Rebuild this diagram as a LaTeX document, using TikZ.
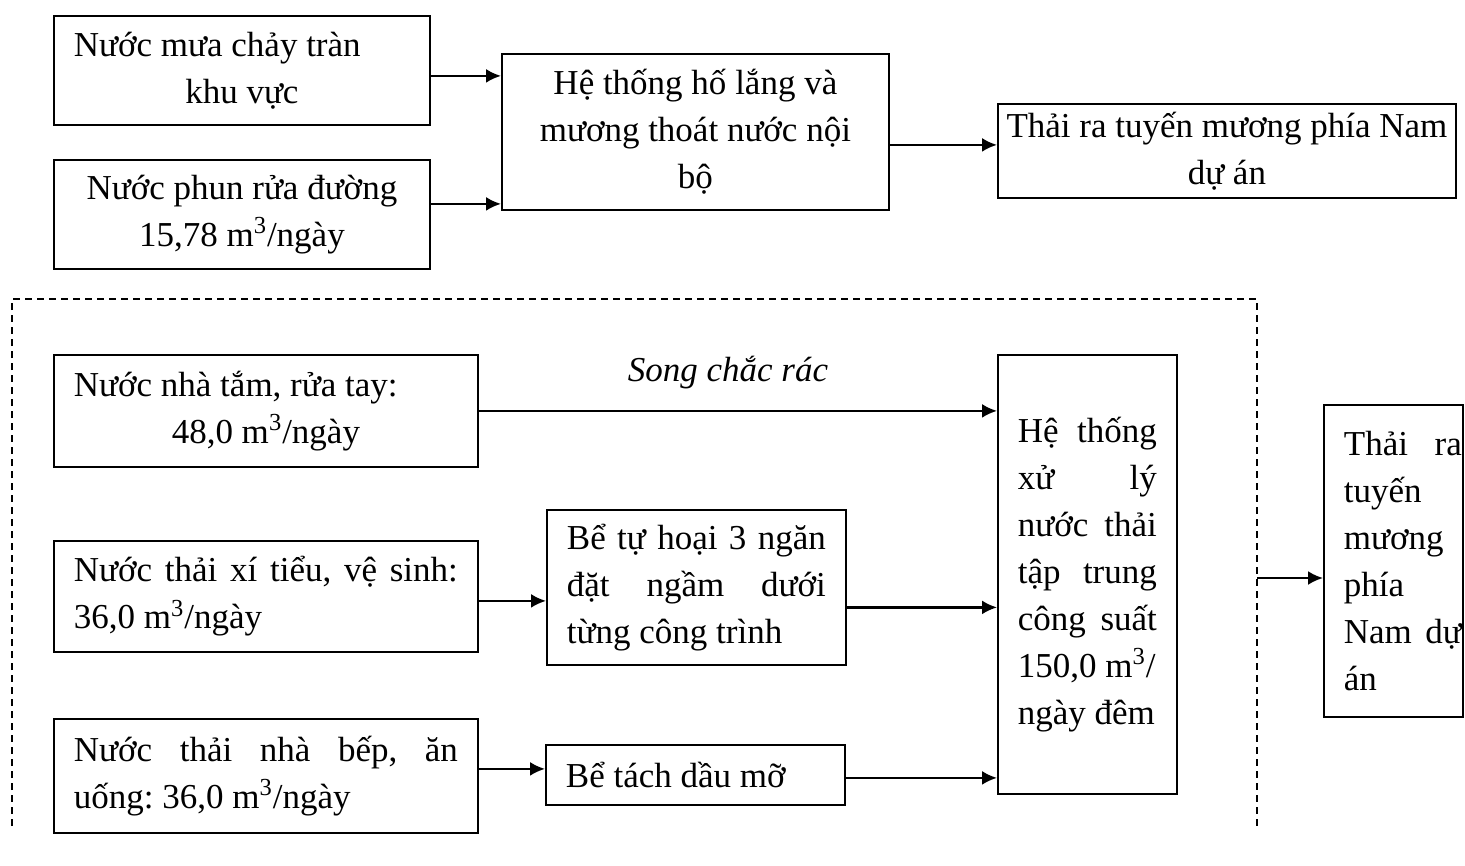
\documentclass[tikz,border=0pt]{standalone}
\usepackage{fontspec}
\setmainfont{Liberation Serif}
\usetikzlibrary{arrows.meta}
\usetikzlibrary{calc}
\frenchspacing

\newcommand{\fullline}[1]{\makebox[\hsize][s]{#1}}
\newcommand{\leftpart}[1]{\makebox[\hsize][l]{#1}}
\newcommand{\mcube}{m\textsuperscript{3}}

\tikzset{
  box/.style={draw, line width=0.9pt, inner xsep=10pt, inner ysep=0pt,
    anchor=north west, font=\fontsize{17.5}{23.5}\selectfont},
  flow/.style={line width=1.2pt, -{Latex[length=7.5pt,width=7pt]}},
  zone/.style={line width=0.7pt, dash pattern=on 3.5pt off 2.5pt},
}

\begin{document}
\begin{tikzpicture}[x=0.5pt, y=-0.5pt]
    \useasboundingbox (0,0) rectangle (1465,866);
    % surface runoff
    \node[box, minimum height=54.5pt] (rain) at (53,15)
      {\parbox{168pt}{\centering\leftpart{Nước mưa chảy tràn}\\ khu vực}};
    \node[box, minimum height=54.5pt] (wash) at (53,159)
      {\parbox{168pt}{\centering Nước phun rửa đường\\ 15,78 \mcube/ngày}};
    \node[box, minimum height=78pt] (pit) at (501,53)
      {\parbox{173.5pt}{\centering Hệ thống hố lắng và\\ mương thoát nước nội\\ bộ}};
    \node[box, inner xsep=4pt, minimum height=47pt] (canal) at (997,103)
      {\parbox{221pt}{\centering Thải ra tuyến mương phía Nam\\ dự án}};
    \draw[flow] ($(rain.east)+(0,5.5)$) -- ($(rain.east -| pit.west)+(0,5.5)$);
    \draw[flow] ($(wash.east)+(0,-10.5)$) -- ($(wash.east -| pit.west)+(0,-10.5)$);
    \draw[flow] ($(canal.west -| pit.east)+(0,-6)$) -- ($(canal.west)+(0,-6)$);
    % domestic wastewater
    \coordinate (zoneSW) at (12,826);
    \coordinate (zoneNE) at (1257,299);
    \coordinate (zoneSE) at (1257,827);
    \draw[zone] (zoneSW) |- (zoneNE) -- (zoneSE);
    \node[box, minimum height=56pt] (bath) at (53,354)
      {\parbox{192pt}{\centering\leftpart{Nước nhà tắm, rửa tay:}\\ 48,0 \mcube/ngày}};
    \node[box, minimum height=55.5pt] (toilet) at (53,540)
      {\parbox{192pt}{\fullline{Nước thải xí tiểu, vệ sinh:}\\ 36,0 \mcube/ngày}};
    \node[box, minimum height=57pt] (kitchen) at (53,718)
      {\parbox{192pt}{\fullline{Nước thải nhà bếp, ăn}\\ uống: 36,0 \mcube/ngày}};
    \node[box, minimum height=77.5pt] (septic) at (546,509)
      {\parbox{129.5pt}{\fullline{Bể tự hoại 3 ngăn}\\ \fullline{đặt ngầm dưới}\\ từng công trình}};
    \node[box, minimum height=30pt] (grease) at (545,744)
      {\parbox{129.5pt}{Bể tách dầu mỡ}};
    \node[box, minimum height=219.5pt] (plant) at (997,354)
      {\parbox{69.5pt}{\fullline{Hệ thống}\\ \fullline{xử lý}\\ \fullline{nước thải}\\ \fullline{tập trung}\\
       \fullline{công suất}\\ 150,0 \mcube/\\ ngày đêm}};
    \node[box, inner xsep=0pt, minimum width=69.5pt, minimum height=156pt] (outfall) at (1323,404)
      {\hspace*{10pt}\parbox{59pt}{\fullline{Thải ra}\\ tuyến\\ mương\\ phía\\ \fullline{Nam dự}\\ án}\hspace*{0.5pt}};
    \node[font=\fontsize{17.5}{21}\selectfont\itshape] (screen) at (728,373) {Song chắc rác};
    \draw[flow] (bath.east) -- (bath.east -| plant.west);
    \draw[flow] ($(toilet.east)+(0,4.5)$) -- ($(toilet.east -| septic.west)+(0,4.5)$);
    \draw[flow] ($(septic.east)+(0,20)$) -- ($(septic.east -| plant.west)+(0,20)$);
    \draw[flow] ($(kitchen.east)+(0,-7)$) -- ($(kitchen.east -| grease.west)+(0,-7)$);
    \draw[flow] ($(grease.east)+(0,3)$) -- ($(grease.east -| plant.west)+(0,3)$);
    \coordinate (outlet) at (1257,578);
    \draw[flow] (outlet) -- (outlet -| outfall.west);
\end{tikzpicture}
\end{document}
